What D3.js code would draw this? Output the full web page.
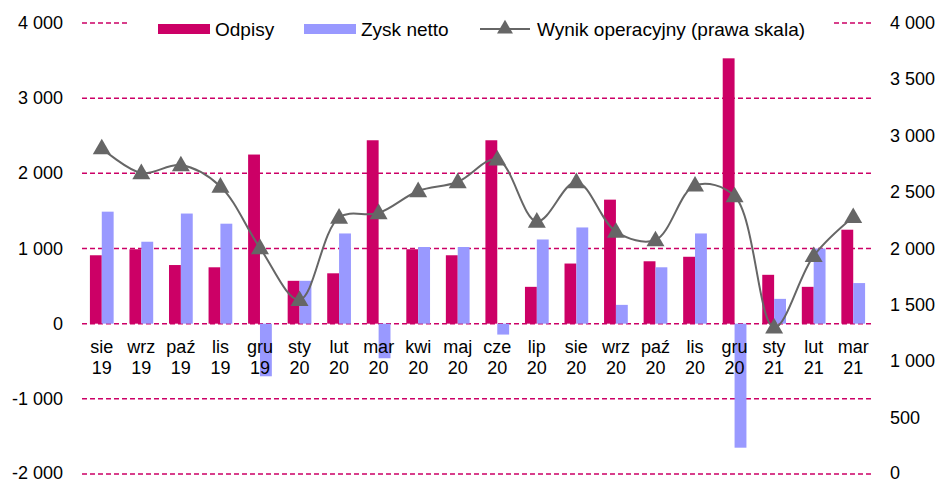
<!DOCTYPE html>
<html><head><meta charset="utf-8">
<script src="https://cdn.jsdelivr.net/npm/d3@7"></script>
<style>html,body{margin:0;padding:0;background:#fff;}svg{display:block;font-family:"Liberation Sans",Arial,sans-serif;}</style>
</head><body>
<svg id="c" width="938" height="482"></svg>
<script>
const months = ["sie","wrz","paź","lis","gru","sty","lut","mar","kwi","maj","cze","lip","sie","wrz","paź","lis","gru","sty","lut","mar"];
const years  = ["19","19","19","19","19","20","20","20","20","20","20","20","20","20","20","20","20","21","21","21"];
const odpisy = [910,990,780,750,2250,570,670,2440,990,910,2440,490,800,1650,830,890,3530,650,490,1250];
const zysk   = [1490,1090,1465,1330,-700,570,1200,-460,1020,1020,-145,1120,1280,250,750,1200,-1650,330,1000,540];
const wynik  = [2890,2670,2740,2550,2005,1545,2275,2315,2510,2590,2790,2240,2590,2150,2075,2560,2465,1300,1935,2280];
const leftTicks = [-2000,-1000,0,1000,2000,3000,4000];
const rightTicks = [0,500,1000,1500,2000,2500,3000,3500,4000];

const cMag = "#CC0066", cBlue = "#9999FF", cLine = "#666666";
const svg = d3.select("#c");
const x0 = 82, x1 = 873, yTop = 23, yBot = 474;
const cats = months.map((m,i)=>i);
const x = d3.scaleBand().domain(cats).range([x0,x1]).padding(0);
const yL = d3.scaleLinear().domain([-2000,4000]).range([yBot,yTop]);
const yR = d3.scaleLinear().domain([0,4000]).range([yBot,yTop]);
const bw = x.bandwidth()*0.3;
const fmt = v => (v<0?"-":"") + String(Math.abs(v)).replace(/\B(?=(\d{3})+(?!\d))/g," ");
const ly = y => Math.min(y+6, 478.5);

// gridlines
svg.append("g").selectAll("line").data(leftTicks).join("line")
  .attr("x1",x0).attr("x2",x1).attr("y1",d=>yL(d)).attr("y2",d=>yL(d))
  .attr("stroke",cMag).attr("stroke-width",1.5).attr("stroke-dasharray","5,3");

// left labels
svg.append("g").selectAll("text").data(leftTicks).join("text")
  .attr("x",63).attr("y",d=>ly(yL(d))).attr("text-anchor","end")
  .attr("font-size",18).attr("fill","#000").text(fmt);
// right labels
svg.append("g").selectAll("text").data(rightTicks).join("text")
  .attr("x",890).attr("y",d=>ly(yR(d))).attr("text-anchor","start")
  .attr("font-size",18).attr("fill","#000").text(fmt);

// bars
const cx = i => x(i)+x.bandwidth()/2;
svg.append("g").selectAll("rect").data(odpisy).join("rect")
  .attr("x",(d,i)=>cx(i)-bw).attr("width",bw)
  .attr("y",d=>yL(Math.max(0,d))).attr("height",d=>Math.abs(yL(d)-yL(0)))
  .attr("fill",cMag);
svg.append("g").selectAll("rect").data(zysk).join("rect")
  .attr("x",(d,i)=>cx(i)).attr("width",bw)
  .attr("y",d=>yL(Math.max(0,d))).attr("height",d=>Math.abs(yL(d)-yL(0)))
  .attr("fill",cBlue);

// category labels
const lab = svg.append("g").selectAll("text").data(cats).join("text")
  .attr("x",i=>cx(i)).attr("y",353).attr("text-anchor","middle").attr("font-size",18).attr("fill","#000");
lab.append("tspan").attr("x",i=>cx(i)).text(i=>months[i]);
lab.append("tspan").attr("x",i=>cx(i)).attr("dy",21).text(i=>years[i]);

// line
const line = d3.line().x((d,i)=>cx(i)).y(d=>yR(d)).curve(d3.curveCatmullRom.alpha(0.5));
svg.append("path").datum(wynik).attr("d",line).attr("fill","none").attr("stroke",cLine).attr("stroke-width",2);
const tri = d3.symbol().type(d3.symbolTriangle).size(140);
svg.append("g").selectAll("path").data(wynik).join("path")
  .attr("d",tri).attr("transform",(d,i)=>`translate(${cx(i)},${yR(d)+1})`).attr("fill",cLine);

// legend
const lg = svg.append("g");
lg.append("rect").attr("x",128).attr("y",12).attr("width",703).attr("height",30).attr("fill","#fff");
lg.append("rect").attr("x",158).attr("y",24).attr("width",52).attr("height",10).attr("fill",cMag);
lg.append("text").attr("x",215).attr("y",29).attr("dy","0.35em").attr("font-size",19).text("Odpisy");
lg.append("rect").attr("x",304).attr("y",24).attr("width",52).attr("height",10).attr("fill",cBlue);
lg.append("text").attr("x",361).attr("y",29).attr("dy","0.35em").attr("font-size",19).text("Zysk netto");
lg.append("line").attr("x1",480).attr("x2",530).attr("y1",29).attr("y2",29).attr("stroke",cLine).attr("stroke-width",2);
lg.append("path").attr("d",d3.symbol().type(d3.symbolTriangle).size(110)).attr("transform","translate(505,29)").attr("fill",cLine);
lg.append("text").attr("x",537).attr("y",29).attr("dy","0.35em").attr("font-size",19).text("Wynik operacyjny (prawa skala)");
</script>
</body></html>
